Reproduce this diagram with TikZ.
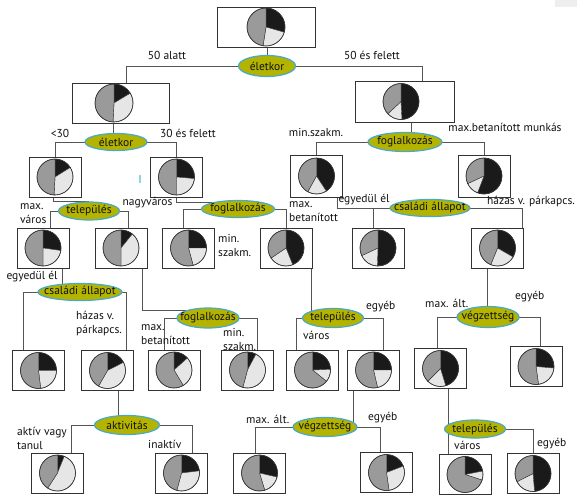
\documentclass[tikz,border=0pt]{standalone}
\usepackage{fontspec}
\setmainfont{PT Sans}
\usetikzlibrary{shapes.geometric,backgrounds,calc}
\definecolor{ellfill}{HTML}{B3B300}
\definecolor{ellborder}{HTML}{45AACC}
\definecolor{pieG}{HTML}{9A9A9A}
\definecolor{pieB}{HTML}{1A1A1A}
\definecolor{pieL}{HTML}{E6E6E6}
\definecolor{boxcol}{HTML}{333333}
\definecolor{conncol}{HTML}{555555}
\definecolor{topgray}{HTML}{EEEEEE}
\definecolor{tickcol}{HTML}{8FD3E8}
\definecolor{txt}{HTML}{111111}
\tikzset{
 box/.style={draw=boxcol, line width=0.9pt, fill=white, minimum width=52pt, minimum height=40pt, inner sep=0pt},
 ell/.style={ellipse, draw=ellborder, line width=1.2pt, fill=ellfill, inner sep=0pt, font=\fontsize{11.5}{13}\selectfont, text=txt},
 lbl/.style={font=\fontsize{11.5}{14}\selectfont, inner sep=0pt, text=txt, align=left},
 conn/.style={draw=conncol, line width=1pt},
 slice/.style={draw=boxcol, line width=0.4pt}
}
\newcommand{\mypie}[4]{%
 \filldraw[slice, fill=pieB] (#1) -- ++(90:#4) arc[start angle=90, end angle=#2, radius=#4] -- cycle;
 \filldraw[slice, fill=pieL] (#1) -- ++(#2:#4) arc[start angle=#2, end angle=#3, radius=#4] -- cycle;
 \filldraw[slice, fill=pieG] (#1) -- ++(#3:#4) arc[start angle=#3, end angle=-270, radius=#4] -- cycle;
 \draw[slice, line width=0.6pt] (#1) circle[radius=#4];
}
\begin{document}
\begin{tikzpicture}[x=1pt,y=1pt]
\useasboundingbox (0,0) rectangle (577,-496);
\fill[topgray] (555,0) rectangle (577,-7);
\draw[tickcol, line width=1.5pt] (140,-175) -- (140,-183);

% boxes
\node[box, minimum width=98pt] (root) at (266,-27) {};
\node[box, minimum width=97pt] (L1) at (120.5,-103) {};
\node[box, minimum width=99pt, minimum height=41pt] (R1) at (404.5,-101.5) {};
\node[box] (L2a) at (55,-177) {};
\node[box] (L2b) at (176.5,-177) {};
\node[box, minimum height=42pt] (R2a) at (316.5,-176) {};
\node[box, minimum height=42pt] (R2b) at (484,-176) {};
\node[box] (L3a) at (43,-248) {};
\node[box] (L3b) at (121,-248) {};
\node[box] (L3c) at (188.5,-248) {};
\node[box] (L3d) at (286,-248) {};
\node[box] (R3b) at (378,-248) {};
\node[box] (R3c) at (497.5,-248) {};
\node[box] (L4a) at (38.5,-370.5) {};
\node[box] (L4b) at (107.5,-370.5) {};
\node[box] (L4c) at (174,-370) {};
\node[box] (L4d) at (247.5,-370) {};
\node[box] (R4a) at (312.5,-370) {};
\node[box] (R4b) at (373.5,-370) {};
\node[box] (R4c) at (440.5,-368.5) {};
\node[box] (R4d) at (536,-366.5) {};
\node[box] (L5a) at (57.5,-473) {};
\node[box] (L5b) at (181.5,-473) {};
\node[box] (B5c) at (259.5,-473) {};
\node[box] (B5d) at (386.5,-472.5) {};
\node[box] (B5e) at (465,-474.5) {};
\node[box] (B5f) at (533,-473.5) {};

% pies
\mypie{root.center}{-16}{-99}{19pt}
\mypie{[xshift=-6.5pt]L1.center}{31}{-93}{19pt}
\mypie{[xshift=-3.5pt]R1.center}{-87}{-137}{18pt}
\mypie{L2a.center}{32}{-93}{18pt}
\mypie{L2b.center}{-5}{-90}{18pt}
\mypie{R2a.center}{-57}{-119}{18pt}
\mypie{R2b.center}{-111}{-155}{18pt}
\mypie{L3a.center}{-8}{-90}{18pt}
\mypie{L3b.center}{51}{-90}{18pt}
\mypie{L3c.center}{0}{-75}{18pt}
\mypie{L3d.center}{-68}{-146}{18pt}
\mypie{R3b.center}{-92}{-155}{18pt}
\mypie{R3c.center}{-30}{-112}{18pt}
\mypie{L4a.center}{0}{-83}{18pt}
\mypie{L4b.center}{27}{-120}{18pt}
\mypie{L4c.center}{42}{-59}{18pt}
\mypie{L4d.center}{62}{-105}{18pt}
\mypie{R4a.center}{2}{-39}{18pt}
\mypie{R4b.center}{0}{-77}{18pt}
\mypie{R4c.center}{-73}{-135}{18pt}
\mypie{R4d.center}{-5}{-82}{18pt}
\mypie{L5a.center}{68}{-123}{18pt}
\mypie{L5b.center}{7}{-105}{18pt}
\mypie{B5c.center}{-13}{-73}{18pt}
\mypie{B5d.center}{21}{-82}{18pt}
\mypie{B5e.center}{11}{-18}{18pt}
\mypie{B5f.center}{-85}{-153}{18pt}

% ellipses
\node[ell, minimum width=57pt, minimum height=21pt] (e1) at (267,-66) {\makebox[0pt]{életkor}};
\node[ell, minimum width=62pt, minimum height=17pt] (e2) at (116,-142) {\makebox[0pt]{életkor}};
\node[ell, minimum width=74pt, minimum height=19pt] (e3) at (405,-142) {\makebox[0pt]{foglalkozás}};
\node[ell, minimum width=61pt, minimum height=18pt] (e4) at (89,-211) {\makebox[0pt]{település}};
\node[ell, minimum width=73pt, minimum height=17pt] (e5) at (238,-209) {\makebox[0pt]{foglalkozás}};
\node[ell, minimum width=80pt, minimum height=17pt] (e6) at (430,-208) {\makebox[0pt]{családi állapot}};
\node[ell, minimum width=84pt, minimum height=17pt] (e7) at (80,-292) {\makebox[0pt]{családi állapot}};
\node[ell, minimum width=62pt, minimum height=20pt] (e8) at (208,-318) {\makebox[0pt]{foglalkozás}};
\node[ell, minimum width=61pt, minimum height=19pt] (e9) at (333,-318) {\makebox[0pt]{település}};
\node[ell, minimum width=62pt, minimum height=21pt] (e10) at (488,-317) {\makebox[0pt]{végzettség}};
\node[ell, minimum width=65pt, minimum height=19pt] (e11) at (127,-425) {\makebox[0pt]{aktivitás}};
\node[ell, minimum width=64pt, minimum height=19pt] (e12) at (325,-427) {\makebox[0pt]{végzettség}};
\node[ell, minimum width=61pt, minimum height=18pt] (e13) at (475,-429) {\makebox[0pt]{település}};

% connectors
\begin{scope}[on background layer]
\draw[conn] (e1.center) -- (e1.center |- root.south);
\draw[conn] (e1.center) -| ([xshift=5.5pt]L1.north);
\draw[conn] (e1.center) -| ([xshift=17.5pt]R1.north);
\draw[conn] ([xshift=-7pt]L1.south) -- ([xshift=-7pt]L1.south |- e2.center);
\draw[conn] (e2.center) -| (L2a.north);
\draw[conn] (e2.center) -| (L2b.north);
\draw[conn] ([xshift=6.5pt]R1.south) -- ([xshift=6.5pt]R1.south |- e3.center);
\draw[conn] (e3.center) -| (R2a.north);
\draw[conn] (e3.center) -| (R2b.north);
\draw[conn] ([xshift=-2pt]L2a.south) |- (e4.north);
\draw[conn] (e4.center) -| ([xshift=7pt]L3a.north);
\draw[conn] (e4.center) -| ([xshift=7pt]L3b.north);
\draw[conn] (L2b.south) |- (e5.north west);
\draw[conn] (e5.center) -| ([xshift=-5.5pt]L3c.north);
\draw[conn] (e5.center) -| (L3d.north);
\draw[conn] ([xshift=20.5pt]R2a.south) |- (e6.center);
\draw[conn] (e6.center) -| ([xshift=-5pt]R3b.north);
\draw[conn] (e6.center) -| ([xshift=24.5pt]R3c.north);
\draw[conn] ([xshift=19pt]L3a.south) -- ([xshift=19pt]L3a.south |- e7.center);
\draw[conn] (e7.center) -| ([xshift=-15.5pt]L4a.north);
\draw[conn] (e7.center) -| ([xshift=18.5pt]L4b.north);
\draw[conn] ([xshift=21pt]L3b.south) |- (e8.north west);
\draw[conn] (e8.center) -| ([xshift=-10pt]L4c.north);
\draw[conn] (e8.center) -| ([xshift=9.5pt]L4d.north);
\draw[conn] ([xshift=25pt]L3d.south) -- ([xshift=25pt]L3d.south |- e9.center);
\draw[conn] (e9.center) -| ([xshift=-16.5pt]R4a.north);
\draw[conn] (e9.center) -| ([xshift=9.5pt]R4b.north);
\draw[conn] ([xshift=-10.5pt]R3c.south) -- ([xshift=-10.5pt]R3c.south |- e10.center);
\draw[conn] (e10.center) -| ([xshift=-3.5pt]R4c.north);
\draw[conn] (e10.center) -| ([xshift=4pt]R4d.north);
\draw[conn] ([xshift=10.5pt]L4b.south) -- ([xshift=10.5pt]L4b.south |- e11.center);
\draw[conn] (e11.center) -| ([xshift=13.5pt]L5a.north);
\draw[conn] (e11.center) -| ([xshift=10.5pt]L5b.north);
\draw[conn] ([xshift=-20.5pt]R4b.south) -- ([xshift=-20.5pt]R4b.south |- e12.center);
\draw[conn] (e12.center) -| ([xshift=-4.5pt]B5c.north);
\draw[conn] (e12.center) -| ([xshift=-6.5pt]B5d.north);
\draw[conn] ([xshift=7.5pt]R4c.south) -- ([xshift=7.5pt]R4c.south |- B5e.north);
\draw[conn] (e13.center) -| (B5f.north);
\end{scope}

% labels
\node[lbl] (t1) at (167,-55) {50 alatt};
\node[lbl] (t2) at (372,-55) {50 és felett};
\node[lbl] (t3) at (60,-133) {<30};
\node[lbl] (t4) at (188,-133) {30 és felett};
\node[lbl] (t5) at (316,-132) {min.szakm.};
\node[lbl] (t6) at (505,-127) {max.betanított munkás};
\node[lbl, anchor=west] (t7) at (20,-213.5) {max.\\város};
\node[lbl] (t8) at (147.5,-203) {nagyváros};
\node[lbl, anchor=west] (t9) at (218,-245.5) {min.\\szakm.};
\node[lbl, anchor=west] (t10) at (289,-212) {max.\\betanított};
\node[lbl] (t11) at (364,-200) {egyedül él};
\node[lbl] (t12) at (531,-202) {házas v. párkapcs.};
\node[lbl] (t13) at (32,-277) {egyedül él};
\node[lbl, anchor=west] (t14) at (76,-323.5) {házas v.\\párkapcs.};
\node[lbl, anchor=west] (t15) at (141,-334.5) {max.\\betanított};
\node[lbl, anchor=west] (t16) at (223,-339.5) {min.\\szakm.};
\node[lbl, anchor=west] (t17) at (366,-307) {egyéb};
\node[lbl, anchor=west] (t18) at (303,-335) {város};
\node[lbl, anchor=west] (t19) at (425,-303) {max. ált.};
\node[lbl, anchor=west] (t20) at (515,-297) {egyéb};
\node[lbl, anchor=west] (t21) at (17,-438) {aktív vagy\\tanul};
\node[lbl, anchor=west] (t22) at (148,-444) {inaktív};
\node[lbl, anchor=west] (t23) at (246,-419) {max. ált.};
\node[lbl, anchor=west] (t24) at (368,-418) {egyéb};
\node[lbl, anchor=west] (t25) at (454,-445) {város};
\node[lbl, anchor=west] (t26) at (537,-444) {egyéb};
\end{tikzpicture}
\end{document}
